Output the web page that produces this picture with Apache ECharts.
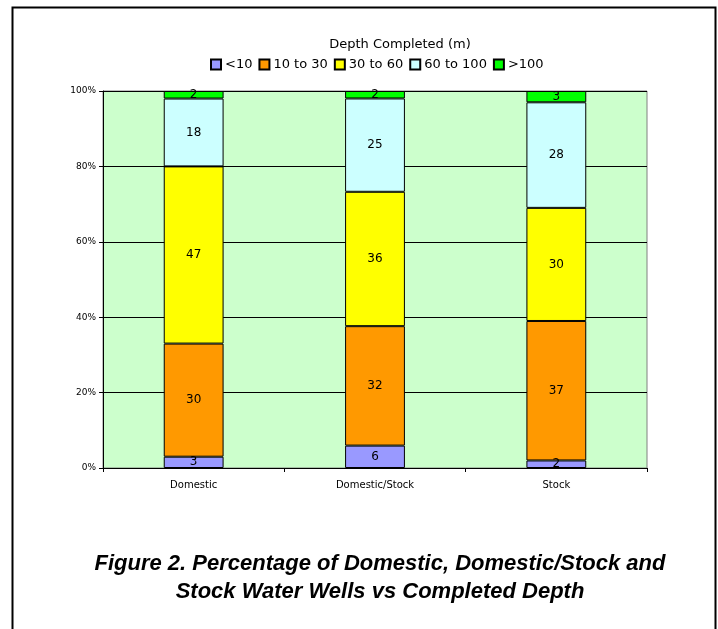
<!DOCTYPE html>
<html>
<head>
<meta charset="utf-8">
<script src="https://cdn.jsdelivr.net/npm/echarts@6/dist/echarts.min.js"></script>
<style>
html,body{margin:0;padding:0;background:#fff;}
#chart{width:718px;height:629px;}
</style>
</head>
<body>
<div id="chart"></div>
<script>
const categories = ['Domestic', 'Domestic/Stock', 'Stock'];
const seriesNames = ['<10', '10 to 30', '30 to 60', '60 to 100', '>100'];
const lt10 = [3, 6, 2];
const d10to30 = [30, 32, 37];
const d30to60 = [47, 36, 30];
const d60to100 = [18, 25, 28];
const gt100 = [2, 2, 3];
const yTickLabels = ['0%', '20%', '40%', '60%', '80%', '100%'];
const colors = ['#9999FF', '#FF9900', '#FFFF00', '#CCFFFF', '#00FF00'];

const raw = [lt10, d10to30, d30to60, d60to100, gt100];
const totals = categories.map((c, i) => raw.reduce((s, arr) => s + arr[i], 0));

const chart = echarts.init(document.getElementById('chart'), null, {renderer: 'canvas'});
const series = raw.map((arr, k) => ({
  name: seriesNames[k],
  type: 'bar',
  stack: 'total',
  barWidth: '33%',
  data: arr.map((v, i) => ({value: v / totals[i] * 100, raw: v})),
  itemStyle: {color: colors[k], borderColor: '#000', borderWidth: 1},
  label: {
    show: true,
    position: 'inside',
    color: '#000',
    fontFamily: 'DejaVu Sans',
    fontSize: 12,
    formatter: p => String(p.data.raw)
  },
  emphasis: {disabled: true},
  animation: false
}));

chart.setOption({
  animation: false,
  graphic: [{
    type: 'rect',
    shape: {x: 12.5, y: 7.5, width: 703, height: 640},
    style: {fill: 'none', stroke: '#000', lineWidth: 2},
    silent: true
  }],
  title: [{
    text: 'Depth Completed (m)',
    left: 395, top: 33, textAlign: 'center',
    textStyle: {fontFamily: 'DejaVu Sans', fontSize: 13, fontWeight: 'normal', color: '#000'}
  }, {
    text: 'Figure 2. Percentage of Domestic, Domestic/Stock and\nStock Water Wells vs Completed Depth',
    left: 375, top: 545, textAlign: 'center',
    textStyle: {fontFamily: 'Liberation Sans', fontSize: 22, fontWeight: 'bold', fontStyle: 'italic', color: '#000', lineHeight: 28}
  }],
  legend: {
    data: seriesNames,
    left: 205, top: 53,
    icon: 'rect',
    itemWidth: 10, itemHeight: 10,
    itemGap: 6,
    textStyle: {fontFamily: 'DejaVu Sans', fontSize: 13, color: '#000', padding: [0, 0, 0, -1]}
  },
  grid: {
    left: 103, right: 71, top: 91, bottom: 161,
    show: true, backgroundColor: '#CCFFCC', borderColor: '#808080', borderWidth: 1
  },
  xAxis: {
    type: 'category',
    data: categories,
    axisLine: {lineStyle: {color: '#000', width: 1}},
    axisTick: {show: true, length: 4, lineStyle: {color: '#000'}},
    axisLabel: {fontFamily: 'DejaVu Sans', fontSize: 10, color: '#000', margin: 12}
  },
  yAxis: {
    type: 'value',
    min: 0, max: 100, interval: 20,
    axisLine: {show: true, lineStyle: {color: '#000', width: 1}},
    axisTick: {show: true, length: 4, lineStyle: {color: '#000'}},
    axisLabel: {fontFamily: 'DejaVu Sans', fontSize: 9, color: '#000', margin: 7,
      formatter: v => yTickLabels[Math.round(v / 20)]},
    splitLine: {show: true, lineStyle: {color: '#000', width: 1}}
  },
  series: series
});
</script>
</body>
</html>
